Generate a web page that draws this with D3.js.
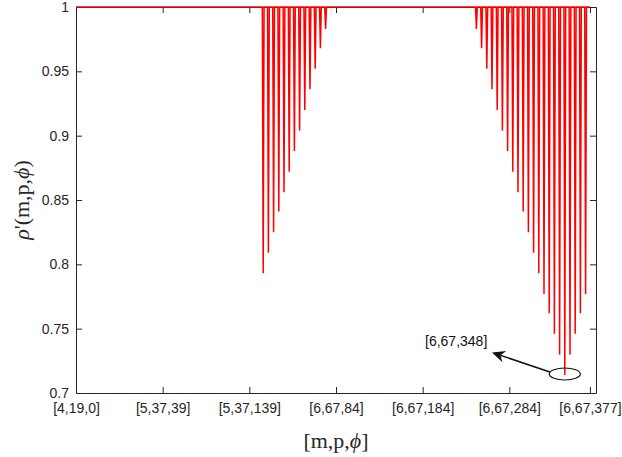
<!DOCTYPE html>
<html>
<head>
<meta charset="utf-8">
<script src="https://cdn.jsdelivr.net/npm/d3@7"></script>
<style>
  body { margin: 0; background: #fff; }
  .tick text { font-family: 'Liberation Sans', Arial, sans-serif; font-size: 14px; fill: #262626; }
  .tick line, .domain { stroke: #262626; }
  .axis-title { font-family: 'Liberation Serif', 'Times New Roman', serif; font-size: 22px; fill: #262626; }
  .anno-text { font-family: 'Liberation Sans', Arial, sans-serif; font-size: 14px; fill: #111; }
</style>
</head>
<body>
<div id="chart"></div>
<script>
// data
const xTickIndex = [0, 100, 200, 300, 400, 500, 593];
const xTickLabels = ['[4,19,0]', '[5,37,39]', '[5,37,139]', '[6,67,84]', '[6,67,184]', '[6,67,284]', '[6,67,377]'];
const yTicks = [0.7, 0.75, 0.8, 0.85, 0.9, 0.95, 1];
const lastIndex = 593;
const baseValue = 1;

// first dip cluster
const dipIndexA = [216, 222, 228, 234, 240, 246, 252, 258, 264, 270, 276, 282, 288];
const dipValueA = [0.793, 0.809, 0.825, 0.841, 0.856, 0.872, 0.888, 0.904, 0.920, 0.936, 0.952, 0.968, 0.983];

// second dip cluster
const dipIndexB = [462, 468, 474, 480, 486, 492, 498, 504, 510, 516, 522, 528, 534, 540, 546, 552, 558, 564, 570, 576, 582, 588];
const dipValueB = [0.983, 0.968, 0.952, 0.936, 0.920, 0.904, 0.888, 0.872, 0.856, 0.841, 0.825, 0.809, 0.793, 0.777, 0.762, 0.746, 0.730, 0.714, 0.730, 0.746, 0.762, 0.777];

// dimensions
const WIDTH = 622;
const HEIGHT = 457;
const MARGIN_TOP = 7;
const MARGIN_BOTTOM = 64;
const MARGIN_LEFT = 76;
const MARGIN_RIGHT = 26;
const TICK = 6;
const LINE_COLOR = '#ff0000';

const $svg = d3.select('#chart').append('svg')
  .attr('width', WIDTH)
  .attr('height', HEIGHT);

// scales
const scaleX = d3.scaleLinear().domain([0, 600]).range([MARGIN_LEFT, WIDTH - MARGIN_RIGHT]);
const scaleY = d3.scaleLinear().domain([0.7, 1]).range([HEIGHT - MARGIN_BOTTOM, MARGIN_TOP]);

// build the series: flat at 1 with a narrow dip at each listed index
const dips = dipIndexA.map((d, i) => ({ idx: d, val: dipValueA[i] }))
  .concat(dipIndexB.map((d, i) => ({ idx: d, val: dipValueB[i] })));
const points = [{ idx: 0, val: baseValue }];
dips.forEach((d) => {
  points.push({ idx: d.idx - 1, val: baseValue });
  points.push({ idx: d.idx, val: d.val });
  points.push({ idx: d.idx + 1, val: baseValue });
});
points.push({ idx: lastIndex, val: baseValue });

const line = d3.line().x((d) => scaleX(d.idx)).y((d) => scaleY(d.val));

// axes (box with inward ticks on all sides)
const y0 = scaleY.range()[0];
const y1 = scaleY.range()[1];
const x0 = scaleX.range()[0];
const x1 = scaleX.range()[1];

$svg.append('g')
  .attr('transform', `translate(0, ${y0})`)
  .call(d3.axisBottom(scaleX).tickValues(xTickIndex).tickFormat((d, i) => xTickLabels[i])
    .tickSizeInner(-TICK).tickSizeOuter(0).tickPadding(10));

$svg.append('g')
  .attr('transform', `translate(0, ${y1})`)
  .call(d3.axisTop(scaleX).tickValues(xTickIndex).tickFormat('')
    .tickSizeInner(-TICK).tickSizeOuter(0));

$svg.append('g')
  .attr('transform', `translate(${x0}, 0)`)
  .call(d3.axisLeft(scaleY).tickValues(yTicks).tickFormat((d) => d3.format('~g')(d))
    .tickSizeInner(-TICK).tickSizeOuter(0).tickPadding(7));

$svg.append('g')
  .attr('transform', `translate(${x1}, 0)`)
  .call(d3.axisRight(scaleY).tickValues(yTicks).tickFormat('')
    .tickSizeInner(-TICK).tickSizeOuter(0));

$svg.selectAll('.domain').attr('stroke-width', 1);

// series
$svg.append('path')
  .datum(points)
  .attr('fill', 'none')
  .attr('stroke', LINE_COLOR)
  .attr('stroke-width', 1.5)
  .attr('stroke-linejoin', 'miter')
  .attr('d', line);

// axis titles
const xTitle = $svg.append('text')
  .attr('class', 'axis-title')
  .attr('x', (x0 + x1) / 2)
  .attr('y', 448)
  .attr('text-anchor', 'middle');
xTitle.append('tspan').text('[m,p,');
xTitle.append('tspan').attr('font-style', 'italic').text('ϕ');
xTitle.append('tspan').text(']');

const yTitle = $svg.append('text')
  .attr('class', 'axis-title')
  .attr('transform', `translate(29, ${(y0 + y1) / 2}) rotate(-90)`)
  .attr('text-anchor', 'middle');
yTitle.append('tspan').attr('font-style', 'italic').text('ρ');
yTitle.append('tspan').text("'(m,p,");
yTitle.append('tspan').attr('font-style', 'italic').text('ϕ');
yTitle.append('tspan').text(')');

// annotation for the deepest dip
const minDip = dips.reduce((a, b) => (b.val < a.val ? b : a));
const cx = scaleX(minDip.idx);
const cy = scaleY(minDip.val) - 1;
$svg.append('ellipse')
  .attr('cx', cx)
  .attr('cy', cy)
  .attr('rx', 15.5)
  .attr('ry', 6)
  .attr('fill', 'none')
  .attr('stroke', '#111')
  .attr('stroke-width', 1.2);

const tail = [cx - 15, cy - 2];
const tip = [scaleX(480), scaleY(0.7315)];
const ang = Math.atan2(tip[1] - tail[1], tip[0] - tail[0]);
const rot = (p, a) => [p[0] * Math.cos(a) - p[1] * Math.sin(a), p[0] * Math.sin(a) + p[1] * Math.cos(a)];
const head = [[0, 0], [-13, -6], [-9, 0], [-13, 6]].map((p) => {
  const r = rot(p, ang);
  return [tip[0] + r[0], tip[1] + r[1]];
});
$svg.append('line')
  .attr('x1', tail[0]).attr('y1', tail[1])
  .attr('x2', tip[0] - 9 * Math.cos(ang)).attr('y2', tip[1] - 9 * Math.sin(ang))
  .attr('stroke', '#111')
  .attr('stroke-width', 1.5);
$svg.append('path')
  .attr('d', `M${head.map((p) => p.join(',')).join('L')}Z`)
  .attr('fill', '#111');

$svg.append('text')
  .attr('class', 'anno-text')
  .attr('x', 425)
  .attr('y', 346)
  .text('[6,67,' + 348 + ']');
</script>
</body>
</html>
